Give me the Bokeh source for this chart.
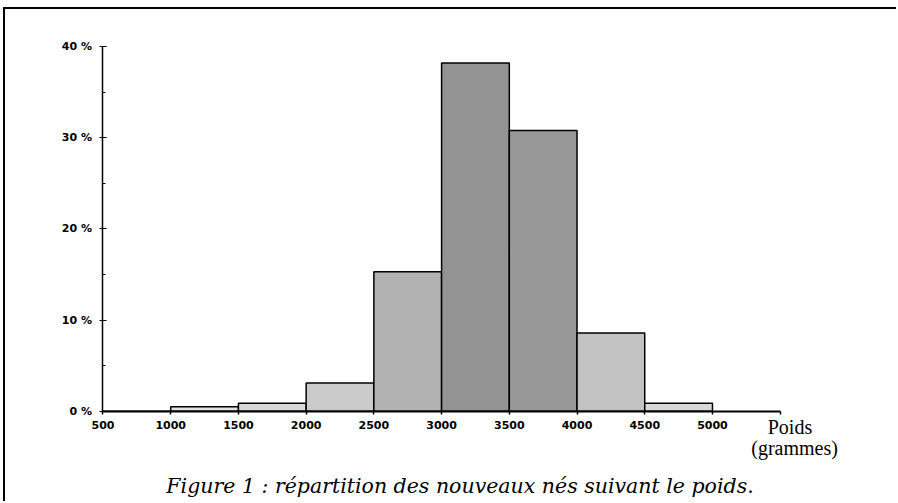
from bokeh.plotting import figure
from bokeh.models import FixedTicker, Label, ColumnDataSource
from bokeh.embed import file_html
from bokeh.resources import INLINE

# ---- data ----
bin_left = [500, 1000, 1500, 2000, 2500, 3000, 3500, 4000, 4500]
bin_right = [1000, 1500, 2000, 2500, 3000, 3500, 4000, 4500, 5000]
percent = [0.0, 0.5, 0.9, 3.1, 15.3, 38.2, 30.8, 8.6, 0.9]
x_ticks = [500, 1000, 1500, 2000, 2500, 3000, 3500, 4000, 4500, 5000, 5500]
x_tick_labels = ["500", "1000", "1500", "2000", "2500", "3000", "3500", "4000", "4500", "5000", ""]
y_ticks = [0, 10, 20, 30, 40]
y_tick_labels = ["0 %", "10 %", "20 %", "30 %", "40 %"]
y_minor = [5, 15, 25, 35]
axis_title = ["Poids", "(grammes)"]
caption = "Figure 1 : répartition des nouveaux nés suivant le poids."

# ---- style (shade of each bar, scanned look) ----
shades = ["#e6e6e6", "#e0e0e0", "#d9d9d9", "#cbcbcb", "#b3b3b3", "#939393", "#989898", "#c2c2c2", "#d9d9d9"]

src = ColumnDataSource(dict(left=bin_left, right=bin_right, top=percent,
                            bottom=[0] * len(percent), color=shades))

W, H = 893, 494
p = figure(width=W, height=H, output_backend="svg", toolbar_location=None,
           x_range=(112.4, 6373.6), y_range=(-10.1, 41.86),
           min_border_left=45, min_border_right=0, min_border_top=20, min_border_bottom=0)
p.styles = {"border-top": "2px solid black", "border-left": "2px solid black",
            "margin-top": "7px", "margin-left": "3px"}
p.outline_line_color = None
p.grid.visible = False
p.background_fill_color = "white"
p.border_fill_color = "white"

p.quad(left="left", right="right", top="top", bottom="bottom", source=src,
       fill_color="color", line_color="black", line_width=1.5)

font = "DejaVu Sans"
# x axis (drawn at y = 0, line limited to 500..5500)
xa = p.xaxis[0]
xa.fixed_location = 0
xa.bounds = (500, 5500)
xa.ticker = FixedTicker(ticks=x_ticks, minor_ticks=[])
xa.major_label_overrides = {t: l for t, l in zip(x_ticks, x_tick_labels)}
xa.major_label_text_font = font
xa.major_label_text_font_style = "bold"
xa.major_label_text_font_size = "11px"
xa.major_label_text_color = "black"
xa.major_label_standoff = 7
xa.major_tick_out = 3
xa.major_tick_in = 0
xa.minor_tick_out = 0
xa.axis_line_width = 2
xa.major_tick_line_width = 1.5
xa.axis_line_color = "black"

# y axis (drawn at x = 500, line limited to 0..40)
ya = p.yaxis[0]
ya.fixed_location = 500
ya.bounds = (0, 40)
ya.ticker = FixedTicker(ticks=y_ticks, minor_ticks=y_minor)
ya.major_label_overrides = {t: l for t, l in zip(y_ticks, y_tick_labels)}
ya.major_label_text_font = font
ya.major_label_text_font_style = "bold"
ya.major_label_text_font_size = "11px"
ya.major_label_text_color = "black"
ya.major_label_standoff = 8
ya.major_tick_out = 3
ya.major_tick_in = 4
ya.minor_tick_out = 0
ya.minor_tick_in = 3
ya.axis_line_width = 1.5
ya.axis_line_color = "black"

serif = "Liberation Serif"
p.add_layout(Label(x=5572, y=-1.66, text=axis_title[0], text_align="center",
                   text_baseline="alphabetic", text_font=serif,
                   text_font_size="20px", text_color="black"))
p.add_layout(Label(x=5606, y=-4.01, text=axis_title[1], text_align="center",
                   text_baseline="alphabetic", text_font=serif,
                   text_font_size="20px", text_color="black"))
p.add_layout(Label(x=3136, y=-8.13, text=caption, text_align="center",
                   text_baseline="alphabetic", text_font="DejaVu Serif",
                   text_font_style="italic",
                   text_font_size="20.5px", text_color="black"))

open("out.html", "w").write(file_html(p, INLINE))
